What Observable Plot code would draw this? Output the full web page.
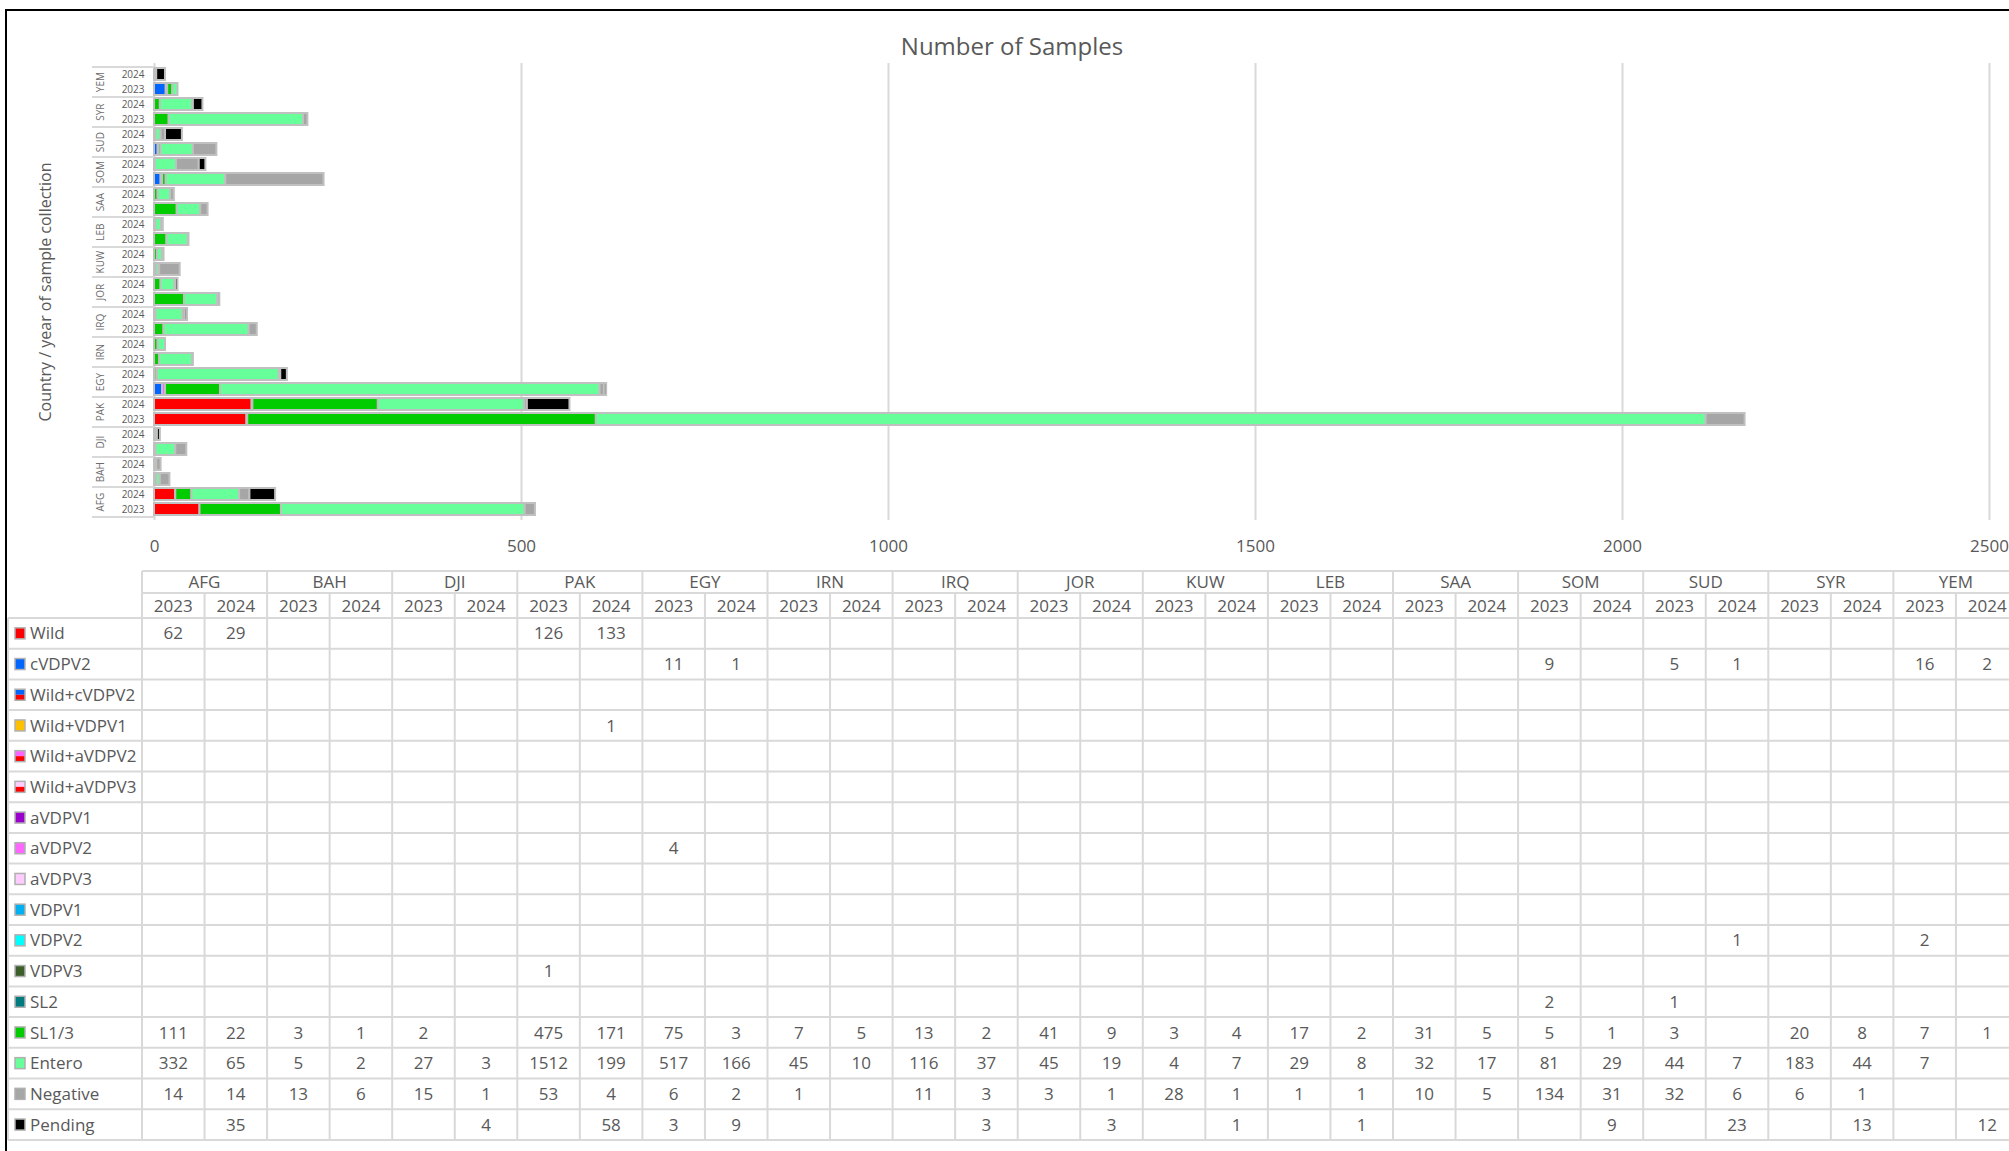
<!DOCTYPE html>
<html>
<head>
<meta charset="utf-8">
<script src="https://cdn.jsdelivr.net/npm/d3@7"></script>
<script src="https://cdn.jsdelivr.net/npm/@observablehq/plot@0.6"></script>
<style>
  html, body { margin: 0; padding: 0; background: #fff; overflow: hidden; }
  #root { position: relative; width: 2009px; height: 1151px; overflow: hidden; background: #fff;
          font-family: "Open Sans", sans-serif; color: #595959; }
  #chart { position: absolute; left: 0; top: 0; }
  #title { position: absolute; left: 0; width: 2024px; top: 30px; line-height: 32px; text-align: center;
           font-size: 24px; color: #595959; }
  #ytitle { position: absolute; left: 45px; top: 292px; transform: translate(-50%, -50%) rotate(-90deg);
            white-space: nowrap; font-size: 16px; color: #595959; }
  #table { position: absolute; left: 0; top: 0; }
  #frame { position: absolute; left: 5px; top: 9px; width: 2100px; height: 1300px;
           border-left: 2px solid #000; border-top: 2px solid #000; pointer-events: none; }
</style>
</head>
<body>
<div id="root">
  <div id="chart"></div>
  <div id="title">Number of Samples</div>
  <div id="ytitle">Country / year of sample collection</div>
  <svg id="table" width="2009" height="1151"></svg>
  <div id="frame"></div>
</div>
<script>
const _ = null;
const countries = ["AFG","BAH","DJI","PAK","EGY","IRN","IRQ","JOR","KUW","LEB","SAA","SOM","SUD","SYR","YEM"];
const years = ["2023","2024"];
const categories = ["Wild","cVDPV2","Wild+cVDPV2","Wild+VDPV1","Wild+aVDPV2","Wild+aVDPV3","aVDPV1","aVDPV2","aVDPV3","VDPV1","VDPV2","VDPV3","SL2","SL1/3","Entero","Negative","Pending"];
const catColors = ["#FF0000","#0066FF","#0066FF","#FFC000","#FF66FF","#FFCCFF","#9900CC","#FF66FF","#FFCCFF","#00B0F0","#00FFFF","#3B5E2B","#007C80","#00CC00","#66FF99","#A6A6A6","#000000"];
// two-tone legend keys: top colour, bottom colour
const splitKeys = {"Wild+cVDPV2": ["#0066FF","#FF0000"], "Wild+aVDPV2": ["#FF66FF","#FF0000"], "Wild+aVDPV3": ["#FFCCFF","#FF0000"]};
const xTicks = [0, 500, 1000, 1500, 2000, 2500];

// columns: AFG23, AFG24, BAH23, BAH24, DJI23, DJI24, PAK23, PAK24, EGY23, EGY24, IRN23, IRN24, IRQ23, IRQ24, JOR23, JOR24,
//          KUW23, KUW24, LEB23, LEB24, SAA23, SAA24, SOM23, SOM24, SUD23, SUD24, SYR23, SYR24, YEM23, YEM24
const wild        = [62,29,_,_,_,_,126,133,_,_, _,_,_,_,_,_,_,_,_,_, _,_,_,_,_,_,_,_,_,_];
const cVDPV2      = [_,_,_,_,_,_,_,_,11,1, _,_,_,_,_,_,_,_,_,_, _,_,9,_,5,1,_,_,16,2];
const wildCVDPV2  = [_,_,_,_,_,_,_,_,_,_, _,_,_,_,_,_,_,_,_,_, _,_,_,_,_,_,_,_,_,_];
const wildVDPV1   = [_,_,_,_,_,_,_,1,_,_, _,_,_,_,_,_,_,_,_,_, _,_,_,_,_,_,_,_,_,_];
const wildAVDPV2  = [_,_,_,_,_,_,_,_,_,_, _,_,_,_,_,_,_,_,_,_, _,_,_,_,_,_,_,_,_,_];
const wildAVDPV3  = [_,_,_,_,_,_,_,_,_,_, _,_,_,_,_,_,_,_,_,_, _,_,_,_,_,_,_,_,_,_];
const aVDPV1      = [_,_,_,_,_,_,_,_,_,_, _,_,_,_,_,_,_,_,_,_, _,_,_,_,_,_,_,_,_,_];
const aVDPV2      = [_,_,_,_,_,_,_,_,4,_, _,_,_,_,_,_,_,_,_,_, _,_,_,_,_,_,_,_,_,_];
const aVDPV3      = [_,_,_,_,_,_,_,_,_,_, _,_,_,_,_,_,_,_,_,_, _,_,_,_,_,_,_,_,_,_];
const VDPV1       = [_,_,_,_,_,_,_,_,_,_, _,_,_,_,_,_,_,_,_,_, _,_,_,_,_,_,_,_,_,_];
const VDPV2       = [_,_,_,_,_,_,_,_,_,_, _,_,_,_,_,_,_,_,_,_, _,_,_,_,_,1,_,_,2,_];
const VDPV3       = [_,_,_,_,_,_,1,_,_,_, _,_,_,_,_,_,_,_,_,_, _,_,_,_,_,_,_,_,_,_];
const SL2         = [_,_,_,_,_,_,_,_,_,_, _,_,_,_,_,_,_,_,_,_, _,_,2,_,1,_,_,_,_,_];
const SL13        = [111,22,3,1,2,_,475,171,75,3, 7,5,13,2,41,9,3,4,17,2, 31,5,5,1,3,_,20,8,7,1];
const entero      = [332,65,5,2,27,3,1512,199,517,166, 45,10,116,37,45,19,4,7,29,8, 32,17,81,29,44,7,183,44,7,_];
const negative    = [14,14,13,6,15,1,53,4,6,2, 1,_,11,3,3,1,28,1,1,1, 10,5,134,31,32,6,6,1,_,_];
const pending     = [_,35,_,_,_,4,_,58,3,9, _,_,_,3,_,3,_,1,_,1, _,_,_,9,_,23,_,13,_,12];

const series = [wild, cVDPV2, wildCVDPV2, wildVDPV1, wildAVDPV2, wildAVDPV3, aVDPV1, aVDPV2, aVDPV3,
                VDPV1, VDPV2, VDPV3, SL2, SL13, entero, negative, pending];

const cols = countries.flatMap(c => years.map(y => ({country: c, year: y, key: `${c}|${y}`})));
const long = [];
series.forEach((vals, i) => vals.forEach((v, j) => {
  if (v != null) long.push({key: cols[j].key, category: categories[i], value: v});
}));

// ---------- bar chart ----------
const W = 2009, H = 560, mT = 63, mB = 40, mL = 154, mR = 20;
const rowKeys = countries.slice().reverse().flatMap(c => [`${c}|2024`, `${c}|2023`]);
const step = (H - mT - mB) / rowKeys.length;

const chart = Plot.plot({
  width: W, height: H,
  marginTop: mT, marginBottom: mB, marginLeft: mL, marginRight: mR,
  style: {fontFamily: "'Open Sans', sans-serif", color: "#595959", background: "transparent", overflow: "visible"},
  x: {domain: [0, 2500]},
  y: {domain: rowKeys, paddingInner: 0.2, paddingOuter: 0.1},
  color: {domain: categories, range: catColors},
  marks: [
    Plot.ruleX(xTicks, {stroke: "#d9d9d9", strokeWidth: 2}),
    Plot.barX(long, Plot.stackX({x: "value", y: "key", fill: "category", order: categories,
                                 stroke: "#c0c0c0", strokeWidth: 2})),
    Plot.axisX(xTicks, {tickSize: 0, tickPadding: 19, fontSize: 17, label: null, fill: "#595959",
                        tickFormat: d => String(d)}),
    Plot.axisY({tickSize: 0, tickPadding: 10, fontSize: 10, label: null, fill: "#595959",
                tickFormat: d => d.split("|")[1]}),
    Plot.ruleY(countries.map(c => `${c}|2023`), {y: d => d, dy: step / 2, x1: 0, x2: 0, insetLeft: -62,
                stroke: "#d9d9d9", strokeWidth: 2}),
    Plot.ruleY([rowKeys[0]], {y: d => d, dy: -step / 2, x1: 0, x2: 0, insetLeft: -62,
                stroke: "#d9d9d9", strokeWidth: 2}),
    Plot.text(countries, {y: c => `${c}|2024`, dy: step / 2, frameAnchor: "left", dx: -54, rotate: -90,
                textAnchor: "middle", fontSize: 10, fill: "#6b6b6b", text: d => d})
  ]
});
document.getElementById("chart").appendChild(chart);

// ---------- data table ----------
const svg = d3.select("#table");
const tX0 = 142, colW = 62.55, labelX = 8;
const hdr1 = 571, hdr2 = 593, body0 = 618, rowH = 30.7;
const xCol = d3.scaleBand().domain(cols.map(d => d.key)).range([tX0, tX0 + colW * cols.length]);
const yRow = d3.scaleBand().domain(categories).range([body0, body0 + rowH * categories.length]);
const tRight = tX0 + colW * cols.length;
const tBottom = body0 + rowH * categories.length;
const lineColor = "#d9d9d9";

const g = svg.append("g").attr("stroke", lineColor).attr("stroke-width", 2);
// horizontal lines
[hdr1, hdr2].forEach(y => g.append("line").attr("x1", tX0).attr("x2", tRight).attr("y1", y).attr("y2", y));
categories.forEach(c => g.append("line").attr("x1", labelX).attr("x2", tRight).attr("y1", yRow(c)).attr("y2", yRow(c)));
g.append("line").attr("x1", labelX).attr("x2", tRight).attr("y1", tBottom).attr("y2", tBottom);
// vertical lines
g.append("line").attr("x1", labelX).attr("x2", labelX).attr("y1", body0).attr("y2", tBottom);
cols.forEach((d, j) => {
  const x = xCol(d.key);
  g.append("line").attr("x1", x).attr("x2", x).attr("y1", j % 2 === 0 ? hdr1 : hdr2).attr("y2", tBottom);
});
g.append("line").attr("x1", tRight).attr("x2", tRight).attr("y1", hdr1).attr("y2", tBottom);

const txt = svg.append("g").attr("fill", "#595959").attr("font-family", "'Open Sans', sans-serif")
  .attr("font-size", 17).attr("text-anchor", "middle");
// country headers
countries.forEach(c => {
  txt.append("text").attr("x", xCol(`${c}|2023`) + colW).attr("y", (hdr1 + hdr2) / 2).attr("dy", "0.36em").text(c);
});
// year headers
cols.forEach(d => {
  txt.append("text").attr("x", xCol(d.key) + colW / 2).attr("y", (hdr2 + body0) / 2).attr("dy", "0.36em").text(d.year);
});
// values
series.forEach((vals, i) => vals.forEach((v, j) => {
  if (v == null) return;
  txt.append("text").attr("x", xCol(cols[j].key) + colW / 2)
    .attr("y", yRow(categories[i]) + rowH / 2).attr("dy", "0.36em").text(v);
}));
// legend keys + labels
categories.forEach((c, i) => {
  const yc = yRow(c) + rowH / 2;
  const kx = 15, kw = 10, kh = 11;
  if (splitKeys[c]) {
    svg.append("rect").attr("x", kx).attr("y", yc - kh / 2).attr("width", kw).attr("height", kh / 2).attr("fill", splitKeys[c][0]);
    svg.append("rect").attr("x", kx).attr("y", yc).attr("width", kw).attr("height", kh / 2).attr("fill", splitKeys[c][1]);
  } else {
    svg.append("rect").attr("x", kx).attr("y", yc - kh / 2).attr("width", kw).attr("height", kh).attr("fill", catColors[i]);
  }
  svg.append("rect").attr("x", kx).attr("y", yc - kh / 2).attr("width", kw).attr("height", kh)
    .attr("fill", "none").attr("stroke", "#b0b0b0").attr("stroke-width", 1.5);
  svg.append("text").attr("x", 30).attr("y", yc).attr("dy", "0.36em")
    .attr("fill", "#595959").attr("font-family", "'Open Sans', sans-serif").attr("font-size", 17).text(c);
});
</script>
</body>
</html>
